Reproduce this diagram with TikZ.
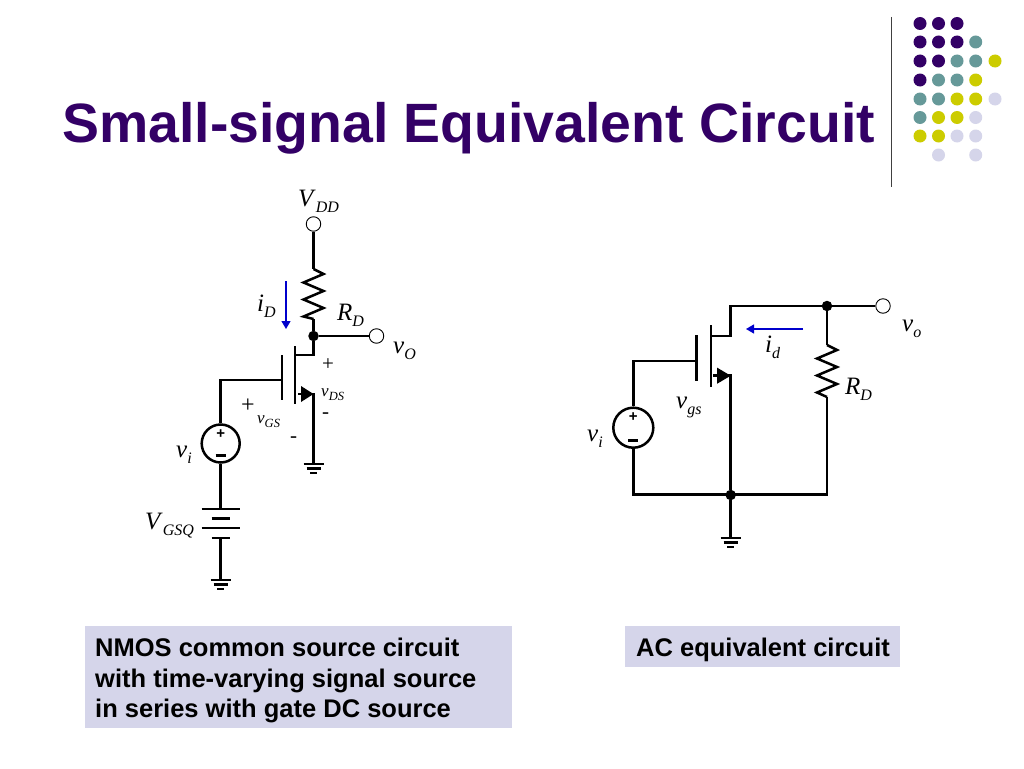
\documentclass[tikz,border=0pt]{standalone}
\usepackage{fontspec}
\setmainfont{Liberation Serif}
\newfontfamily\arialf{Liberation Sans}
\usetikzlibrary{arrows.meta}
\definecolor{dpurple}{HTML}{330066}
\definecolor{dteal}{HTML}{669999}
\definecolor{dyellow}{HTML}{CCCC00}
\definecolor{dlav}{HTML}{D5D5EA}
\definecolor{dblue}{HTML}{0000CC}
\newcommand{\biglab}[2]{{\fontsize{25}{25}\selectfont\textit{#1}}{\fontsize{16}{16}\selectfont\raisebox{-6.5pt}{\textit{#2}}}}
\newcommand{\smlab}[2]{{\fontsize{17}{17}\selectfont\textit{#1}}{\fontsize{12.5}{12.5}\selectfont\raisebox{-4pt}{\textit{#2}}}}
\newcommand{\resist}[2]{\draw[wire] (#1) -- ++(10,5) -- ++(-20,8.5) -- ++(20,8.5) -- ++(-20,8.5) -- ++(20,8.5) -- ++(-20,8.5) -- (#2);}
\newcommand{\gnd}[1]{\draw[wire] (#1) ++(-10,0) -- ++(20,0) (#1) ++(-7,4.5) -- ++(14,0) (#1) ++(-3.5,9) -- ++(7,0);}
\tikzset{
  x=1pt,y=-1pt,
  wire/.style={line width=2.5pt,black,line join=miter},
  term/.style={circle,draw=black,fill=white,line width=0.9pt,minimum size=14.5pt,inner sep=0pt},
  junct/.style={circle,fill=black,minimum size=10.5pt,inner sep=0pt},
  src/.style={circle,draw=black,line width=2.5pt,fill=white,minimum size=#1,inner sep=0pt},
  lab/.style={anchor=base west,inner sep=0pt,black},
  cur/.style={draw=dblue,line width=1.3pt,-{Triangle[length=8pt,width=9pt]}},
  dot/.style={circle,fill=#1,minimum size=13pt,inner sep=0pt},
  captxt/.style={anchor=base west,inner sep=0pt,font=\arialf\bfseries\fontsize{25.5}{25.5}\selectfont,black},
  panel/.style={fill=dlav,draw=none},
  sign/.style={inner sep=0pt,font=\arialf\bfseries\fontsize{15}{15}\selectfont}
}
\begin{document}
\begin{tikzpicture}
\useasboundingbox (0,0) rectangle (1024,768);
\fill[white] (0,0) rectangle (1024,768);

% title
\node[lab,text=dpurple,font=\arialf\bfseries\fontsize{55.4}{56}\selectfont] (title) at (62,142) {Small-signal Equivalent Circuit};
\coordinate (ruleT) at (891.5,17); \coordinate (ruleB) at (891.5,187);
\draw[line width=1pt,black!75] (ruleT) -- (ruleB);

% dots
\foreach \cx/\cy/\cc in {
 920/23.5/dpurple,938.5/23.5/dpurple,957/23.5/dpurple,
 920/42/dpurple,938.5/42/dpurple,957/42/dpurple,975.7/42/dteal,
 920/61/dpurple,938.5/61/dpurple,957/61/dteal,975.7/61/dteal,995/61/dyellow,
 920/80/dpurple,938.5/80/dteal,957/80/dteal,975.7/80/dyellow,
 920/99/dteal,938.5/99/dteal,957/99/dyellow,975.7/99/dyellow,995/99/dlav,
 920/117.5/dteal,938.5/117.5/dyellow,957/117.5/dyellow,975.7/117.5/dlav,
 920/136/dyellow,938.5/136/dyellow,957/136/dlav,975.7/136/dlav,
 938.5/155/dlav,975.7/155/dlav}
 {\node[dot=\cc] at (\cx,\cy) {};}

% ---- left circuit
\node[term] (vdd) at (313.5,224) {};
\node[junct] (jl) at (313.5,336) {};
\node[term] (vol) at (376.5,336) {};
\node[src=38pt] (sl) at (220.7,443.5) {};
\node[sign] (slp) at (220.7,434) {+};
\node[sign] (slm) at (220.7,457) {\rule[2.5pt]{10pt}{2.6pt}};
\coordinate (rlt) at (313.5,269);
\coordinate (rlb) at (313.5,319);
\coordinate (dl) at (313.5,355);
\coordinate (chl) at (295,355);
\coordinate (chlt) at (295,346); \coordinate (chlb) at (295,404);
\coordinate (gtl) at (282,355); \coordinate (gbl) at (282,400);
\coordinate (gl) at (282,380);
\coordinate (gwl) at (220.7,380);
\coordinate (ssl) at (313.5,394);
\coordinate (ssb) at (298,394);
\coordinate (gndl) at (313.5,464);
\draw[wire] (vdd) -- (rlt);
\resist{rlt}{rlb}
\draw[wire] (rlb) -- (jl) -- (dl) -- (chl);
\draw[wire] (jl) -- (vol);
\draw[wire] (chlt) -- (chlb);
\draw[wire] (gtl) -- (gbl);
\draw[wire] (gl) -- (gwl) -- (sl);
\draw[wire] (ssb) -- (ssl) -- (gndl);
\fill[black] (ssl) -- ++(-12.5,-8) -- ++(0,16) -- cycle;
\gnd{gndl}
% battery
\coordinate (b1) at (220.7,509); \coordinate (b2) at (220.7,518.5);
\coordinate (b3) at (220.7,528); \coordinate (b4) at (220.7,538);
\coordinate (gndb) at (220.7,580);
\draw[wire] (sl) -- (b1);
\draw[wire] (b1) ++(-19,0) -- ++(38,0);
\draw[wire] (b2) ++(-9,0) -- ++(18,0);
\draw[wire] (b3) ++(-19,0) -- ++(38,0);
\draw[wire] (b4) ++(-9,0) -- ++(18,0);
\draw[wire] (b4) -- (gndb);
\gnd{gndb}
\coordinate (idlt) at (286,281); \coordinate (idlb) at (286,329);
\draw[cur] (idlt) -- (idlb);

\node[lab] (l1) at (298,206) {\biglab{V}{DD}};
\node[lab] (l2) at (257,311) {\biglab{i}{D}};
\node[lab] (l3) at (337,320) {\biglab{R}{D}};
\node[lab] (l4) at (393,353) {\biglab{v}{O}};
\node[lab,font=\fontsize{21}{21}\selectfont] (l5) at (322,370) {+};
\node[lab] (l6) at (321,396) {\smlab{v}{DS}};
\node[lab,font=\fontsize{21}{21}\selectfont] (l7) at (322,418) {-};
\node[lab,font=\fontsize{24}{24}\selectfont] (l8) at (241,412) {+};
\node[lab] (l9) at (257,423) {\smlab{v}{GS}};
\node[lab,font=\fontsize{21}{21}\selectfont] (l10) at (290,442) {-};
\node[lab] (l11) at (176,457) {\biglab{v}{i}};
\node[lab] (l12) at (145,529) {\biglab{V}{GSQ}};

% ---- right circuit
\node[term] (vor) at (883,306) {};
\node[junct] (jr1) at (827,306) {};
\node[junct] (jr2) at (730.7,495) {};
\node[src=40pt] (sr) at (633.3,427.7) {};
\node[sign] (srp) at (633.3,417.5) {+};
\node[sign] (srm) at (633.3,442) {\rule[2.5pt]{10pt}{2.6pt}};
\coordinate (dtr) at (730.7,306);
\coordinate (dr) at (730.7,336);
\coordinate (chr) at (711,336);
\coordinate (chrt) at (711,325); \coordinate (chrb) at (711,387);
\coordinate (gtr) at (696.7,335); \coordinate (gbr) at (696.7,381);
\coordinate (gr) at (696.7,361);
\coordinate (gwr) at (633.3,361);
\coordinate (ssr) at (730.7,375.7);
\coordinate (ssbr) at (713,375.7);
\coordinate (rrt) at (827,345);
\coordinate (rrb) at (827,397);
\coordinate (blr) at (633.3,494.5);
\coordinate (brr) at (827,494.5);
\coordinate (gndr) at (730.7,538);
\draw[wire] (chr) -- (dr) -- (dtr) -- (jr1) -- (vor);
\draw[wire] (chrt) -- (chrb);
\draw[wire] (gtr) -- (gbr);
\draw[wire] (gr) -- (gwr) -- (sr);
\draw[wire] (ssbr) -- (ssr) -- (jr2);
\fill[black] (ssr) -- ++(-13.5,-8) -- ++(0,16) -- cycle;
\draw[wire] (jr1) -- (rrt);
\resist{rrt}{rrb}
\draw[wire] (rrb) -- (brr) -- (blr) -- (sr);
\draw[wire] (jr2) -- (gndr);
\gnd{gndr}
\coordinate (idr1) at (803,329); \coordinate (idr2) at (746,329);
\draw[cur] (idr1) -- (idr2);

\node[lab] (r1) at (902,331) {\biglab{v}{o}};
\node[lab] (r2) at (765,352) {\biglab{i}{d}};
\node[lab] (r3) at (845,394) {\biglab{R}{D}};
\node[lab] (r4) at (676,408) {\biglab{v}{gs}};
\node[lab] (r5) at (587,441) {\biglab{v}{i}};

% ---- captions
\fill[panel] (85,626) rectangle (512,728);
\fill[panel] (625,626) rectangle (900,667);
\node[captxt] (c1) at (95,656) {NMOS common source circuit};
\node[captxt] (c2) at (95,687) {with time-varying signal source};
\node[captxt] (c3) at (95,717) {in series with gate DC source};
\node[captxt] (c4) at (636,656) {AC equivalent circuit};
\end{tikzpicture}
\end{document}
